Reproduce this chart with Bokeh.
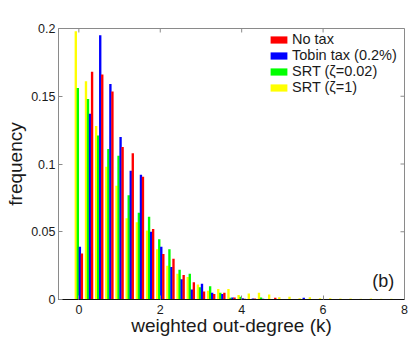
from bokeh.plotting import figure
from bokeh.models import Range1d, FixedTicker, Legend, LegendItem, Label, ColumnDataSource
from bokeh.transform import dodge
from bokeh.embed import file_html
from bokeh.resources import INLINE

# ---- data ----
bin_centers = [0.0, 0.25, 0.5, 0.75, 1.0, 1.25, 1.5, 1.75, 2.0, 2.25, 2.5, 2.75,
               3.0, 3.25, 3.5, 3.75, 4.0, 4.25, 4.5, 4.75, 5.0, 5.25, 5.5, 5.75,
               6.0, 6.25, 6.5, 6.75, 7.0, 7.25, 7.5, 7.75]

no_tax = [0.034, 0.168, 0.166, 0.1535, 0.1125, 0.108, 0.0905, 0.052, 0.0335, 0.030,
          0.018, 0.0127, 0.0059, 0.0040, 0.0049, 0.0015, 0.0005, 0.0007, 0.0003, 0.0012,
          0, 0, 0, 0, 0, 0, 0, 0, 0, 0, 0, 0]
tobin = [0.039, 0.137, 0.195, 0.159, 0.120, 0.095, 0.092, 0.050, 0.039, 0.024,
         0.015, 0.0073, 0.0117, 0.0049, 0.0040, 0.0015, 0.0010, 0.0007, 0.0005, 0,
         0, 0.0003, 0.0012, 0, 0, 0, 0, 0, 0, 0, 0, 0]
srt_002 = [0.156, 0.148, 0.121, 0.111, 0.106, 0.077, 0.064, 0.061, 0.0445, 0.037,
           0.022, 0.019, 0.009, 0.0098, 0.0049, 0.0012, 0.0020, 0.0003, 0.0015, 0.0003,
           0, 0, 0, 0, 0, 0, 0, 0, 0, 0, 0, 0]
srt_1 = [0.198, 0.161, 0.128, 0.098, 0.084, 0.060, 0.057, 0.051, 0.037, 0.025,
         0.019, 0.0166, 0.011, 0.0064, 0.0078, 0.0078, 0.0034, 0.0044, 0.0049, 0.0036,
         0.0017, 0.0020, 0.0010, 0.0017, 0.0010, 0.0010, 0.0007, 0.0007, 0.0005, 0.0007,
         0.0005, 0.0005]

series_labels = ["No tax", "Tobin tax (0.2%)", "SRT (\u03b6=0.02)", "SRT (\u03b6=1)"]
x_ticks = [0, 2, 4, 6, 8]
y_ticks = [0, 0.05, 0.1, 0.15, 0.2]
y_tick_labels = ["0", "0.05", "0.1", "0.15", "0.2"]

FONT = "Liberation Sans"
GRAY = "#8a8a8a"
X0, X1, Y0, Y1 = -0.5, 8, 0, 0.2

p = figure(width=411, height=338, output_backend="svg", toolbar_location=None,
           x_range=Range1d(X0, X1), y_range=Range1d(Y0, Y1),
           min_border_left=58, min_border_right=7, min_border_top=28,
           min_border_bottom=38)
p.background_fill_color = "white"
p.border_fill_color = "white"
p.outline_line_color = GRAY
p.xgrid.visible = False
p.ygrid.visible = False

src = ColumnDataSource(dict(x=bin_centers, red=no_tax, blue=tobin,
                            green=srt_002, yellow=srt_1))

bw = 0.058
order = [("yellow", "#ffff00", -0.075), ("green", "#00ff00", -0.025),
         ("blue", "#0000ff", 0.025), ("red", "#ff0000", 0.075)]
rend = {}
for col, color, off in order:
    rend[col] = p.vbar(x=dodge("x", off), top=col, width=bw, bottom=0, source=src,
                       fill_color=color, line_color=None)

# inside ticks on the top and right borders (same tick lists as the axes)
tly = (Y1 - Y0) * 4 / 272
tlx = (X1 - X0) * 4 / 346
p.segment(x0=x_ticks, x1=x_ticks, y0=[Y1] * len(x_ticks), y1=[Y1 - tly] * len(x_ticks),
          line_color=GRAY, line_width=1)
p.segment(x0=[X1] * len(y_ticks), x1=[X1 - tlx] * len(y_ticks), y0=y_ticks, y1=y_ticks,
          line_color=GRAY, line_width=1)

# axes styling
for ax in (p.xaxis[0], p.yaxis[0]):
    ax.major_tick_in = 4
    ax.major_tick_out = 0
    ax.minor_tick_line_color = None
    ax.major_tick_line_color = GRAY
    ax.major_label_text_font = FONT
    ax.major_label_text_font_size = "12.5px"
    ax.major_label_text_color = "#1a1a1a"
    ax.axis_label_text_font = FONT
    ax.axis_label_text_font_style = "normal"
    ax.axis_label_text_color = "#1a1a1a"
    ax.axis_label_text_font_size = "19px"

p.xaxis.ticker = FixedTicker(ticks=x_ticks)
p.xaxis.axis_line_color = "#111111"
p.xaxis.major_label_standoff = 5
p.xaxis.axis_label = "weighted out-degree (k)"
p.xaxis.axis_label_standoff = -2

p.yaxis.ticker = FixedTicker(ticks=y_ticks)
p.yaxis.major_label_overrides = {t: s for t, s in zip(y_ticks, y_tick_labels)}
p.yaxis.axis_line_color = GRAY
p.yaxis.major_label_standoff = 3
p.yaxis.axis_label = "frequency"
p.yaxis.axis_label_standoff = 2

legend = Legend(items=[LegendItem(label=series_labels[0], renderers=[rend["red"]]),
                       LegendItem(label=series_labels[1], renderers=[rend["blue"]]),
                       LegendItem(label=series_labels[2], renderers=[rend["green"]]),
                       LegendItem(label=series_labels[3], renderers=[rend["yellow"]])],
                location=(210, 204), glyph_width=21, glyph_height=9, label_height=15,
                spacing=-3, padding=4, margin=0, label_standoff=3,
                label_text_font=FONT, label_text_font_size="14.5px",
                label_text_color="#1a1a1a",
                border_line_color=None, background_fill_alpha=0.0)
p.add_layout(legend, "center")

p.add_layout(Label(x=7.48, y=0.0136, text="(b)", text_align="center",
                   text_baseline="middle", text_font=FONT, text_font_size="18px",
                   text_color="#1a1a1a"))

open("out.html", "w").write(file_html(p, INLINE))
